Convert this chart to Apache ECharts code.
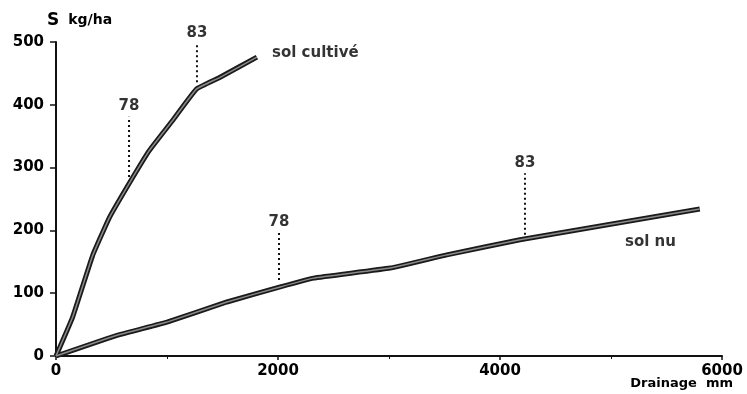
<!DOCTYPE html>
<html><head><meta charset="utf-8">
<script src="https://cdn.jsdelivr.net/npm/echarts@6/dist/echarts.min.js"></script>
<style>html,body{margin:0;padding:0;background:#fff}#c{width:747px;height:394px}</style>
</head><body><div id="c"></div>
<script>
// Data (drainage mm, S kg/ha)
const solCultive = [[0,0],[150,62],[330,160],[480,220],[660,275],[840,327],[1050,375],[1265,425],[1470,443],[1810,476]];
const solNu = [[0,0],[550,33],[1000,54],[1540,86],[2020,110],[2320,124],[3010,140],[3520,161],[4180,185],[5800,234]];
const markerYears = ['78','83','78','83'];
const markerX = [658,1270,2009,4225];
const markerTop = [381,498,196,291];
const markerBottom = [285,436,121,193];
const seriesNames = ['sol cultivé','sol nu'];
const seriesLabelPos = [[1946,482],[5126,181]];
const xTicks = [0,2000,4000,6000];
const yTicks = [0,100,200,300,400,500];

const FONT = 'DejaVu Sans';
const chart = echarts.init(document.getElementById('c'), null, {renderer:'canvas'});
const series = [];
function curve(data){
  series.push({type:'line',data:data,symbol:'none',smooth:0.1,lineStyle:{color:'#1a1a1a',width:5},z:3,silent:true});
  series.push({type:'line',data:data,symbol:'none',smooth:0.1,lineStyle:{color:'#8a8a8a',width:1.5},z:4,silent:true});
}
curve(solCultive); curve(solNu);
markerX.forEach((x,i)=>{
  series.push({type:'line',data:[[x,markerBottom[i]],[x,markerTop[i]]],symbol:'none',
    lineStyle:{color:'#111',width:2,type:[2,3]},z:2,silent:true});
  series.push({type:'scatter',data:[[x,markerTop[i]]],symbolSize:0,silent:true,
    label:{show:true,position:'top',distance:3,formatter:markerYears[i],color:'#000',fontFamily:FONT,fontSize:15,fontWeight:'bold'}});
});
seriesNames.forEach((n,i)=>{
  series.push({type:'scatter',data:[seriesLabelPos[i]],symbolSize:0,silent:true,
    label:{show:true,position:'right',distance:0,formatter:n,color:'#000',fontFamily:FONT,fontSize:15,fontWeight:'bold'}});
});

chart.setOption({
  animation:false,
  grid:{left:56,right:25,top:42,bottom:38,containLabel:false,outerBoundsMode:'none'},
  xAxis:{type:'value',min:0,max:6000,interval:2000,
    axisLine:{show:true,lineStyle:{color:'#111',width:2}},
    axisTick:{show:true,length:4,lineStyle:{color:'#111',width:1.5}},
    minorTick:{show:true,splitNumber:2,length:3,lineStyle:{color:'#111'}},
    splitLine:{show:false},
    axisLabel:{margin:8,color:'#000',fontFamily:FONT,fontSize:15,fontWeight:'bold',
      formatter:v=>xTicks.includes(v)?String(v):''},
    name:'Drainage  mm',nameLocation:'end',nameGap:11,nameMoveOverlap:false,
    nameTextStyle:{align:'right',verticalAlign:'top',padding:[21,0,0,0],color:'#000',fontFamily:FONT,fontSize:13,fontWeight:'bold'}
  },
  yAxis:{type:'value',min:0,max:500,interval:100,
    axisLine:{show:true,lineStyle:{color:'#111',width:2}},
    axisTick:{show:true,length:6,lineStyle:{color:'#111',width:1.5}},
    splitLine:{show:false},
    axisLabel:{margin:12,color:'#000',fontFamily:FONT,fontSize:15,fontWeight:'bold',
      formatter:v=>yTicks.includes(v)?String(v):''},
    name:'{a|S}{b|kg/ha}',nameLocation:'end',nameGap:13,nameMoveOverlap:false,
    nameTextStyle:{align:'left',padding:[0,0,0,-9],color:'#000',
      rich:{a:{fontFamily:FONT,fontSize:17,fontWeight:'bold',color:'#000',padding:[0,9,0,0]},b:{fontFamily:FONT,fontSize:14,fontWeight:'bold',color:'#000'}}}
  },
  series:series
});
</script></body></html>
